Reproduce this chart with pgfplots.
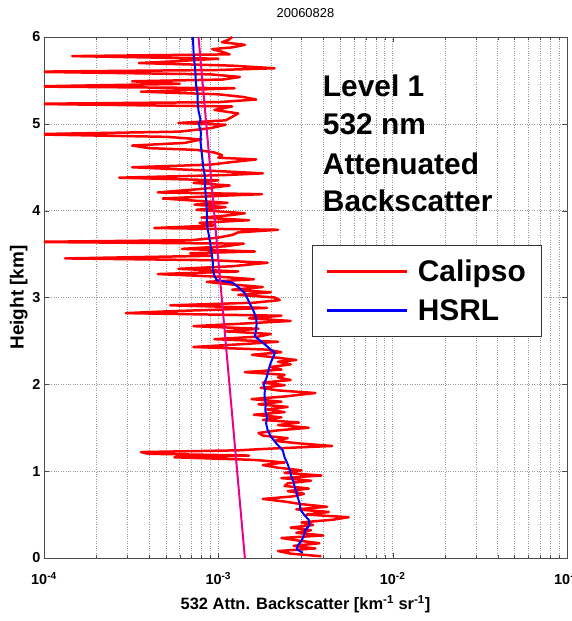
\documentclass[border=0pt]{standalone}
\usepackage{fontspec}
\setmainfont{Liberation Sans}
\usepackage{pgfplots}
\pgfplotsset{compat=1.18}
\pgfplotstableread{
x y
3.9e-3 0.02
2.6e-3 0.05
2.2e-3 0.08
3.6e-3 0.11
2.7e-3 0.14
3.8e-3 0.17
2.9e-3 0.20
2.3e-3 0.23
4.0e-3 0.26
2.8e-3 0.29
3.4e-3 0.32
2.6e-3 0.35
3.5e-3 0.38
3.0e-3 0.41
4.5e-3 0.44
5.6e-3 0.47
3.2e-3 0.50
4.3e-3 0.53
2.8e-3 0.56
4.2e-3 0.59
3.0e-3 0.62
2.4e-3 0.65
1.8e-3 0.68
2.7e-3 0.71
3.1e-3 0.74
2.5e-3 0.77
3.3e-3 0.80
2.4e-3 0.83
2.5e-3 0.86
3.4e-3 0.89
2.3e-3 0.92
3.9e-3 0.95
2.4e-3 0.98
3.0e-3 1.01
2.2e-3 1.04
1.8e-3 1.07
2.4e-3 1.10
1.6e-3 1.13
5.6e-4 1.16
1.5e-3 1.18
4.0e-4 1.20
3.6e-4 1.22
1.3e-3 1.24
2.0e-3 1.26
4.5e-3 1.29
2.9e-3 1.32
2.1e-3 1.35
2.5e-3 1.38
1.8e-3 1.41
1.7e-3 1.44
2.2e-3 1.47
3.3e-3 1.50
2.2e-3 1.53
2.9e-3 1.56
1.8e-3 1.59
2.3e-3 1.62
1.6e-3 1.65
2.4e-3 1.68
1.9e-3 1.71
2.5e-3 1.74
1.7e-3 1.77
2.3e-3 1.80
1.55e-3 1.83
2.4e-3 1.86
3.6e-3 1.90
2.2e-3 1.93
1.75e-3 1.96
2.4e-3 1.99
1.8e-3 2.02
2.6e-3 2.05
2.2e-3 2.08
2.4e-3 2.11
1.42e-3 2.14
2.3e-3 2.17
2.0e-3 2.20
2.6e-3 2.23
2.2e-3 2.26
2.8e-3 2.28
2.1e-3 2.31
1.56e-3 2.34
2.3e-3 2.37
1.9e-3 2.40
7.2e-4 2.43
1.3e-3 2.46
2.2e-3 2.49
9.5e-4 2.52
1.7e-3 2.55
2.0e-3 2.58
1.1e-3 2.61
1.7e-3 2.64
7.2e-4 2.67
1.4e-3 2.70
2.6e-3 2.73
1.5e-3 2.76
2.3e-3 2.79
2.95e-4 2.82
5.0e-4 2.84
1.0e-3 2.86
1.9e-3 2.88
5.3e-4 2.91
1.6e-3 2.94
2.25e-3 2.97
2.1e-3 3.00
1.3e-3 3.03
2.0e-3 3.06
1.2e-3 3.09
1.8e-3 3.12
1.2e-3 3.15
8.6e-4 3.18
1.6e-3 3.21
1.0e-3 3.24
4.5e-4 3.27
1.3e-3 3.30
5.9e-4 3.33
1.2e-3 3.36
1.92e-3 3.40
9.0e-4 3.43
1.32e-4 3.45
9.0e-4 3.48
6.9e-4 3.51
1.62e-3 3.53
6.2e-4 3.56
1.1e-3 3.59
1.4e-3 3.62
8e-5 3.64
7e-4 3.66
1.0e-3 3.69
1.2e-3 3.72
1.3e-3 3.75
2.2e-3 3.78
4.3e-4 3.80
9.5e-4 3.83
7.8e-4 3.86
1.5e-3 3.89
8.0e-4 3.92
1.2e-3 3.95
1.42e-3 3.97
7.5e-4 4.01
1.1e-3 4.04
7.3e-4 4.07
1.13e-3 4.09
4.8e-4 4.14
1.0e-3 4.17
1.78e-3 4.19
4.5e-4 4.21
8.0e-4 4.25
1.16e-3 4.29
7.2e-4 4.32
1.0e-3 4.35
2.7e-4 4.38
1.1e-3 4.41
1.8e-3 4.43
9.0e-4 4.46
3.2e-4 4.50
9.0e-4 4.53
1.2e-3 4.56
1.65e-3 4.59
1.0e-3 4.61
1.05e-3 4.64
9.5e-4 4.67
7.5e-4 4.70
4.0e-4 4.72
3.2e-4 4.75
6.4e-4 4.78
8.0e-4 4.82
5.1e-4 4.85
8e-5 4.88
6.0e-4 4.91
9.0e-4 4.95
1.1e-3 4.99
5.9e-4 5.01
1.1e-3 5.04
1.2e-3 5.08
1.3e-3 5.12
9.5e-4 5.16
1.2e-3 5.20
8e-5 5.23
1.0e-3 5.25
1.65e-3 5.28
1.38e-3 5.31
1.0e-3 5.34
3.6e-4 5.37
1.24e-3 5.41
8e-5 5.43
6.0e-4 5.46
3.2e-4 5.49
1.06e-3 5.51
1.33e-3 5.54
9.0e-4 5.57
8e-5 5.60
1.0e-3 5.62
2.1e-3 5.64
1.2e-3 5.67
3.5e-4 5.70
5.6e-4 5.72
1.0e-3 5.75
1.45e-4 5.78
1.16e-3 5.80
1.05e-3 5.83
9.2e-4 5.86
1.2e-3 5.88
1.42e-3 5.91
1.05e-3 5.94
1.15e-3 5.97
1.2e-3 6.00
}\calipso
\pgfplotstableread{
x y
3.05e-3 0.06
2.82e-3 0.10
2.85e-3 0.14
3.0e-3 0.20
3.1e-3 0.26
3.15e-3 0.32
3.34e-3 0.38
3.30e-3 0.44
3.1e-3 0.50
2.95e-3 0.56
2.93e-3 0.63
2.85e-3 0.70
2.80e-3 0.76
2.74e-3 0.82
2.70e-3 0.88
2.62e-3 0.94
2.57e-3 1.01
2.50e-3 1.08
2.40e-3 1.16
2.34e-3 1.24
2.15e-3 1.32
2.0e-3 1.40
1.92e-3 1.47
1.88e-3 1.55
1.90e-3 1.62
1.86e-3 1.70
1.87e-3 1.78
1.84e-3 1.86
1.85e-3 1.94
1.82e-3 2.00
1.88e-3 2.06
1.92e-3 2.12
1.95e-3 2.18
2.0e-3 2.25
2.05e-3 2.30
2.11e-3 2.36
1.95e-3 2.42
1.80e-3 2.48
1.62e-3 2.55
1.64e-3 2.61
1.66e-3 2.70
1.64e-3 2.78
1.58e-3 2.86
1.50e-3 2.95
1.42e-3 3.05
1.30e-3 3.12
1.21e-3 3.17
9.8e-4 3.20
9.5e-4 3.25
9.3e-4 3.32
9.3e-4 3.40
9.2e-4 3.48
9.06e-4 3.58
8.9e-4 3.68
8.7e-4 3.78
8.6e-4 3.88
8.59e-4 4.00
8.55e-4 4.10
8.45e-4 4.20
8.4e-4 4.30
8.37e-4 4.40
8.2e-4 4.50
8.1e-4 4.60
8.0e-4 4.70
7.9e-4 4.80
7.95e-4 4.90
7.73e-4 5.00
7.9e-4 5.05
7.7e-4 5.15
7.6e-4 5.25
7.6e-4 5.35
7.45e-4 5.45
7.4e-4 5.55
7.35e-4 5.65
7.25e-4 5.75
7.2e-4 5.85
7.15e-4 6.00
}\hsrl
\begin{document}
\begin{tikzpicture}
\begin{axis}[
  name=ax,
  scale only axis, width=523bp, height=521bp,
  xmode=log, xmin=1e-4, xmax=1e-1, ymin=0, ymax=6,
  xtick={1e-4,1e-3,1e-2,1e-1},
  xticklabels={10\textsuperscript{-4},10\textsuperscript{-3},10\textsuperscript{-2},10\textsuperscript{-1}},
  ytick={0,1,2,3,4,5,6}, yticklabels={0,1,2,3,4,5,6},
  tick label style={font=\fontsize{14.5}{16}\selectfont\bfseries},
  xticklabel style={yshift=-11bp},
  xmajorgrids, xminorgrids, ymajorgrids,
  major grid style={dotted, gray!80, line width=0.5pt},
  minor grid style={dotted, gray!80, line width=0.5pt},
  axis line style={black!70},
  tick style={black!70},
  major tick length=5bp, minor tick length=3bp,
  xlabel={532 Attn. Backscatter [km\textsuperscript{-1} sr\textsuperscript{-1}]},
  ylabel={Height [km]},
  xlabel style={font=\fontsize{16.5}{18}\selectfont\bfseries, yshift=-4bp},
  ylabel style={font=\fontsize{19}{21}\selectfont\bfseries, yshift=-2bp},
  title={20060828}, title style={font=\fontsize{13}{15}\selectfont, yshift=10bp},
  legend style={at={(rel axis cs:0.512,0.601)}, anchor=north west,
    font=\fontsize{30}{34}\selectfont\bfseries, draw=black!80, fill=white,
    line width=0.6pt, inner xsep=13bp, inner ysep=13bp, row sep=12bp},
  legend cell align=left,
  legend image code/.code={\draw[#1, line width=3.2pt] (0bp,0bp) -- (80bp,0bp); \path (88bp,0bp);},
]
\addplot[red, line width=2.5pt, line join=round] table[x=x,y=y] {\calipso};
\addlegendentry{Calipso}
\addplot[blue, line width=2pt, line join=round] table[x=x,y=y] {\hsrl};
\addlegendentry{HSRL}
\addplot[magenta, line width=2pt, forget plot] coordinates {(1.42e-3,0) (7.7e-4,6)};
\node[anchor=base west, inner sep=0pt, font=\fontsize{30}{36}\selectfont\bfseries] at (rel axis cs:0.533,0.885) {Level 1};
\node[anchor=base west, inner sep=0pt, font=\fontsize{30}{36}\selectfont\bfseries] at (rel axis cs:0.533,0.812) {532 nm};
\node[anchor=base west, inner sep=0pt, font=\fontsize{30}{36}\selectfont\bfseries] at (rel axis cs:0.533,0.737) {Attenuated};
\node[anchor=base west, inner sep=0pt, font=\fontsize{30}{36}\selectfont\bfseries] at (rel axis cs:0.533,0.666) {Backscatter};
\end{axis}
\pgfresetboundingbox
\path ([xshift=-44bp,yshift=-63bp]ax.south west) rectangle ([xshift=5bp,yshift=37bp]ax.north east);
\end{tikzpicture}
\end{document}
